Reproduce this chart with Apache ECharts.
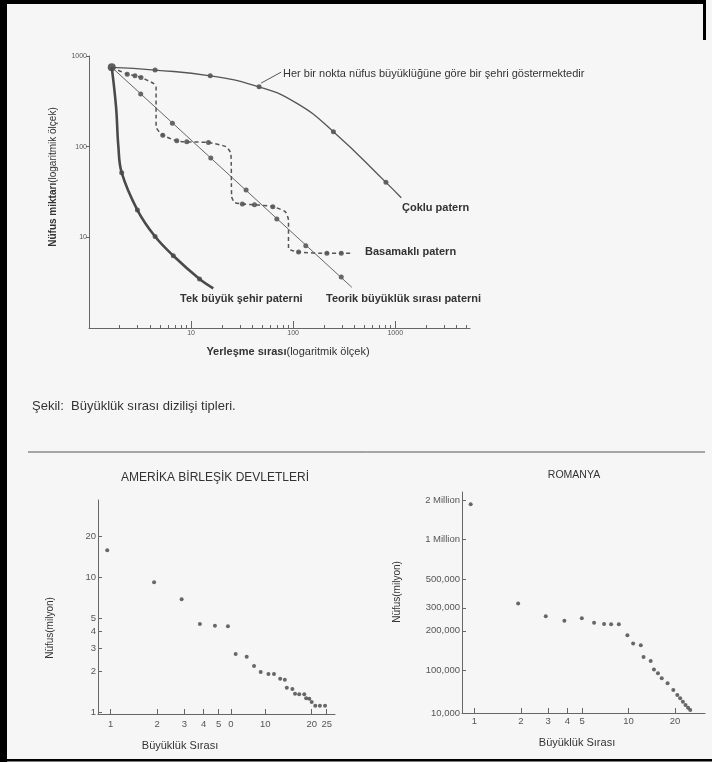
<!DOCTYPE html>
<html><head><meta charset="utf-8">
<script src="https://cdn.jsdelivr.net/npm/echarts@6/dist/echarts.min.js"></script>
<style>html,body{margin:0;padding:0;background:#f6f6f6}#c{width:712px;height:762px}</style>
</head><body><div id="c"></div><script>
// ---------- Top chart: rank-size pattern types ----------
const topXMajor = [10, 100, 1000];
const topXMinor = [2,3,4,5,6,7,8,9,20,30,40,50,60,70,80,90,200,300,400,500,600,700,800,900,2000,3000,4000,5000];
const topYTicks = [10, 100, 1000];
const startPoint = [[1.67, 750]];
const cokluPath = [[1.67,750],[4.44,700],[15.4,605],[46.4,457],[109,300],[248,146],[811,40.4],[1145,27.3]];
const cokluDots = [[4.44,700],[15.4,605],[46.4,457],[248,146],[811,40.4]];
const teorikPath = [[1.67,750],[376,2.81]];
const teorikDots = [[3.21,380],[6.56,181],[15.6,74.9],[34.6,33.2],[69.2,15.9],[133,8.08],[296,3.65]];
const tekPath = [[1.67,750],[1.84,276],[1.94,100],[2.09,51.6],[2.98,20],[4.44,10.2],[6.7,6.27],[12.1,3.47],[16.5,2.74]];
const tekDots = [[2.09,51.6],[2.98,20],[4.44,10.2],[6.7,6.27],[12.1,3.47]];
const basamakliPath = [[1.67,750],[2.37,631],[2.82,605],[3.23,581],[4.27,499],[4.54,457],[4.54,166],[5.28,134],[7.24,116],[9.08,113],[14.8,111],[22,100],[24.5,84],[25,28],[26.6,24.3],[31.8,23.3],[41.8,22.9],[63.2,21.8],[83.5,19.2],[90,15.5],[90,7.57],[113,6.89],[214,6.66],[296,6.66],[362,6.66]];
const basamakliDots = [[2.37,631],[2.82,605],[3.23,581],[5.28,134],[7.24,116],[9.08,113],[14.8,111],[31.8,23.3],[41.8,22.9],[63.2,21.8],[113,6.89],[214,6.66],[296,6.66]];
const leader = [[48.5,502],[76.3,664]];

// ---------- USA ----------
const usXTicks = [1,2,3,4,5,6,10,20,25];
const usXLabels = ['1','2','3','4','5','0','10','20','25'];
const usYTicks = [1,2,3,4,5,10,20];
const usRank = [0.95,1.91,2.88,3.78,4.73,5.74,6.44,7.59,8.47,9.35,10.5,11.4,12.5,13.4,13.8,15.0,15.6,16.6,17.9,18.4,19.3,20,21.1,22.6,24.4];
const usPop  = [15.9,9.18,6.87,4.51,4.38,4.34,2.70,2.58,2.20,1.99,1.92,1.92,1.77,1.74,1.52,1.49,1.37,1.36,1.36,1.27,1.26,1.19,1.12,1.12,1.12];

// ---------- Romania ----------
const roXTicks = [1,2,3,4,5,10,20];
const roYTicks = [46900,100000,200000,300000,500000,1000000,2000000];
const roYLabels = ['10,000','100,000','200,000','300,000','500,000','1 Million','2 Million'];
const roRank = [0.945,1.92,2.90,3.83,4.97,5.97,6.93,7.70,8.64,9.82,10.7,12.0,12.5,13.9,14.6,15.5,16.4,17.9,19.5,20.7,21.6,22.5,23.4,24.3,25.1];
const roPop  = [1870000,324000,259000,239000,249000,230000,225000,224000,224000,185000,160000,155000,126000,117000,101000,94300,86400,79100,70200,64300,60700,57200,54000,51400,49400];

const INK = '#333', AX = '#666', FF = '"Liberation Sans", Arial, sans-serif';
const zip = (a, b) => a.map((v, i) => [v, b[i]]);
const nearestLabel = (vals, labs) => v => { let bi = 0, bd = Infinity; vals.forEach((t, i) => { const d = Math.abs(Math.log(t) - Math.log(v)); if (d < bd) { bd = d; bi = i; } }); return labs[bi]; };
const plain = v => String(Math.round(v));

const chart = echarts.init(document.getElementById('c'), null, {renderer: 'canvas'});
const txt = (text, x, y, font, extra) => ({type: 'text', silent: true, style: Object.assign({text, x, y, font, fill: INK, textVerticalAlign: 'middle', textAlign: 'left'}, extra || {})});

chart.setOption({
  animation: false,
  backgroundColor: '#f6f6f6',
  grid: [
    {left: 89, top: 56, width: 381, height: 272},
    {left: 98, top: 500, width: 237, height: 214},
    {left: 462, top: 492, width: 243, height: 221}
  ],
  xAxis: [
    {gridIndex: 0, type: 'log', min: 1, max: 5400, axisLine: {lineStyle: {color: AX, width: 1}},
      axisTick: {inside: true, length: 7, customValues: topXMajor, lineStyle: {color: AX}},
      axisLabel: {customValues: topXMajor, formatter: plain, fontSize: 7, color: '#555', margin: 2, fontFamily: FF},
      splitLine: {show: false}, minorTick: {show: false}},
    {gridIndex: 0, type: 'log', min: 1, max: 5400, position: 'bottom', axisLine: {show: false},
      axisTick: {inside: true, length: 3, customValues: topXMinor, lineStyle: {color: AX}},
      axisLabel: {show: false}, splitLine: {show: false}},
    {gridIndex: 1, type: 'log', min: 0.828, max: 28.3, axisLine: {lineStyle: {color: AX}},
      axisTick: {inside: true, length: 5, customValues: usXTicks, lineStyle: {color: AX}},
      axisLabel: {customValues: usXTicks, formatter: nearestLabel(usXTicks, usXLabels), fontSize: 9.5, color: '#555', margin: 5, fontFamily: FF},
      splitLine: {show: false}},
    {gridIndex: 2, type: 'log', min: 0.83, max: 31.3, axisLine: {lineStyle: {color: AX}},
      axisTick: {inside: true, length: 5, customValues: roXTicks, lineStyle: {color: AX}},
      axisLabel: {customValues: roXTicks, fontSize: 9.5, color: '#555', margin: 3, fontFamily: FF},
      splitLine: {show: false}}
  ],
  yAxis: [
    {gridIndex: 0, type: 'log', min: 1, max: 1000, axisLine: {show: true, lineStyle: {color: AX}},
      axisTick: {show: true, length: 3, customValues: topYTicks, lineStyle: {color: AX}},
      axisLabel: {customValues: topYTicks, formatter: plain, fontSize: 7, color: '#555', margin: 2, fontFamily: FF},
      splitLine: {show: false}},
    {gridIndex: 1, type: 'log', min: 0.971, max: 37.4, axisLine: {show: true, lineStyle: {color: AX}},
      axisTick: {show: true, inside: true, length: 4, customValues: usYTicks, lineStyle: {color: AX}},
      axisLabel: {customValues: usYTicks, formatter: plain, fontSize: 9.5, color: '#555', margin: 2, fontFamily: FF},
      splitLine: {show: false}},
    {gridIndex: 2, type: 'log', min: 46800, max: 2320000, axisLine: {show: true, lineStyle: {color: AX}},
      axisTick: {show: true, inside: true, length: 4, customValues: roYTicks, lineStyle: {color: AX}},
      axisLabel: {customValues: roYTicks, formatter: nearestLabel(roYTicks, roYLabels), fontSize: 9.5, color: '#555', margin: 2, fontFamily: FF},
      splitLine: {show: false}}
  ],
  series: [
    {type: 'line', xAxisIndex: 0, yAxisIndex: 0, data: cokluPath, smooth: 0.5, showSymbol: false,
      lineStyle: {color: '#555', width: 1.3}, silent: true,
      markLine: {silent: true, symbol: ['none', 'none'], label: {show: false},
        lineStyle: {color: '#555', width: 1, type: 'solid', curveness: -0.25},
        data: [[{coord: leader[0]}, {coord: leader[1]}]]}},
    {type: 'scatter', xAxisIndex: 0, yAxisIndex: 0, data: cokluDots, symbolSize: 5, itemStyle: {color: '#444'}, silent: true},
    {type: 'line', xAxisIndex: 0, yAxisIndex: 0, data: teorikPath, showSymbol: false, lineStyle: {color: '#666', width: 1}, silent: true},
    {type: 'scatter', xAxisIndex: 0, yAxisIndex: 0, data: teorikDots, symbolSize: 5, itemStyle: {color: '#444'}, silent: true},
    {type: 'line', xAxisIndex: 0, yAxisIndex: 0, data: tekPath, smooth: 0.4, showSymbol: false, lineStyle: {color: '#4a4a4a', width: 2.6}, silent: true},
    {type: 'scatter', xAxisIndex: 0, yAxisIndex: 0, data: tekDots, symbolSize: 5, itemStyle: {color: '#444'}, silent: true},
    {type: 'line', xAxisIndex: 0, yAxisIndex: 0, data: basamakliPath, smooth: 0.2, showSymbol: false, lineStyle: {color: '#555', width: 1.5, type: [4, 3]}, silent: true},
    {type: 'scatter', xAxisIndex: 0, yAxisIndex: 0, data: basamakliDots, symbolSize: 5, itemStyle: {color: '#444'}, silent: true},
    {type: 'scatter', xAxisIndex: 0, yAxisIndex: 0, data: startPoint, symbolSize: 8, itemStyle: {color: '#3a3a3a'}, silent: true},
    {type: 'scatter', xAxisIndex: 2, yAxisIndex: 1, data: zip(usRank, usPop), symbolSize: 4, itemStyle: {color: '#444'}, silent: true},
    {type: 'scatter', xAxisIndex: 3, yAxisIndex: 2, data: zip(roRank, roPop), symbolSize: 4, itemStyle: {color: '#444'}, silent: true}
  ],
  graphic: [
    {type: 'rect', silent: true, shape: {x: 0, y: 0, width: 7, height: 762}, style: {fill: '#000'}},
    {type: 'rect', silent: true, shape: {x: 0, y: 0, width: 706, height: 4}, style: {fill: '#000'}},
    {type: 'rect', silent: true, shape: {x: 703, y: 0, width: 3, height: 40}, style: {fill: '#000'}},
    {type: 'rect', silent: true, shape: {x: 0, y: 759, width: 712, height: 2.5}, style: {fill: '#000'}},
    {type: 'line', silent: true, shape: {x1: 28, y1: 452, x2: 705, y2: 452}, style: {stroke: '#555', lineWidth: 1}},
    txt('Her bir nokta nüfus büyüklüğüne göre bir şehri göstermektedir', 283, 74, '11px ' + FF),
    txt('Çoklu patern', 402, 208, 'bold 11px ' + FF),
    txt('Basamaklı patern', 365, 252, 'bold 11px ' + FF),
    txt('Tek büyük şehir paterni', 180, 299, 'bold 11px ' + FF),
    txt('Teorik büyüklük sırası paterni', 326, 299, 'bold 11px ' + FF),
    {type: 'text', silent: true, style: {x: 288, y: 352, textAlign: 'center', textVerticalAlign: 'middle',
      text: '{b|Yerleşme sırası}{n|(logaritmik ölçek)}',
      rich: {b: {font: 'bold 11px ' + FF, fill: INK}, n: {font: '11px ' + FF, fill: INK}}}},
    {type: 'text', silent: true, x: 53, y: 177, rotation: Math.PI / 2, style: {x: 0, y: 0, textAlign: 'center', textVerticalAlign: 'middle',
      text: '{b|Nüfus miktarı}{n|(logaritmik ölçek)}',
      rich: {b: {font: 'bold 10px ' + FF, fill: INK}, n: {font: '10px ' + FF, fill: INK}}}},
    txt('Şekil:  Büyüklük sırası dizilişi tipleri.', 32, 406, '13px ' + FF),
    txt('AMERİKA BİRLEŞİK DEVLETLERİ', 215, 478, '12px ' + FF, {textAlign: 'center'}),
    txt('ROMANYA', 574, 475, '10.5px ' + FF, {textAlign: 'center'}),
    txt('Büyüklük Sırası', 180, 746, '11px ' + FF, {textAlign: 'center'}),
    txt('Büyüklük Sırası', 577, 743, '11px ' + FF, {textAlign: 'center'}),
    {type: 'text', silent: true, x: 50, y: 628, rotation: Math.PI / 2, style: {x: 0, y: 0, text: 'Nüfus(milyon)', font: '10px ' + FF, fill: INK, textAlign: 'center', textVerticalAlign: 'middle'}},
    {type: 'text', silent: true, x: 397, y: 592, rotation: Math.PI / 2, style: {x: 0, y: 0, text: 'Nüfus(milyon)', font: '10px ' + FF, fill: INK, textAlign: 'center', textVerticalAlign: 'middle'}}
  ]
});
</script></body></html>
